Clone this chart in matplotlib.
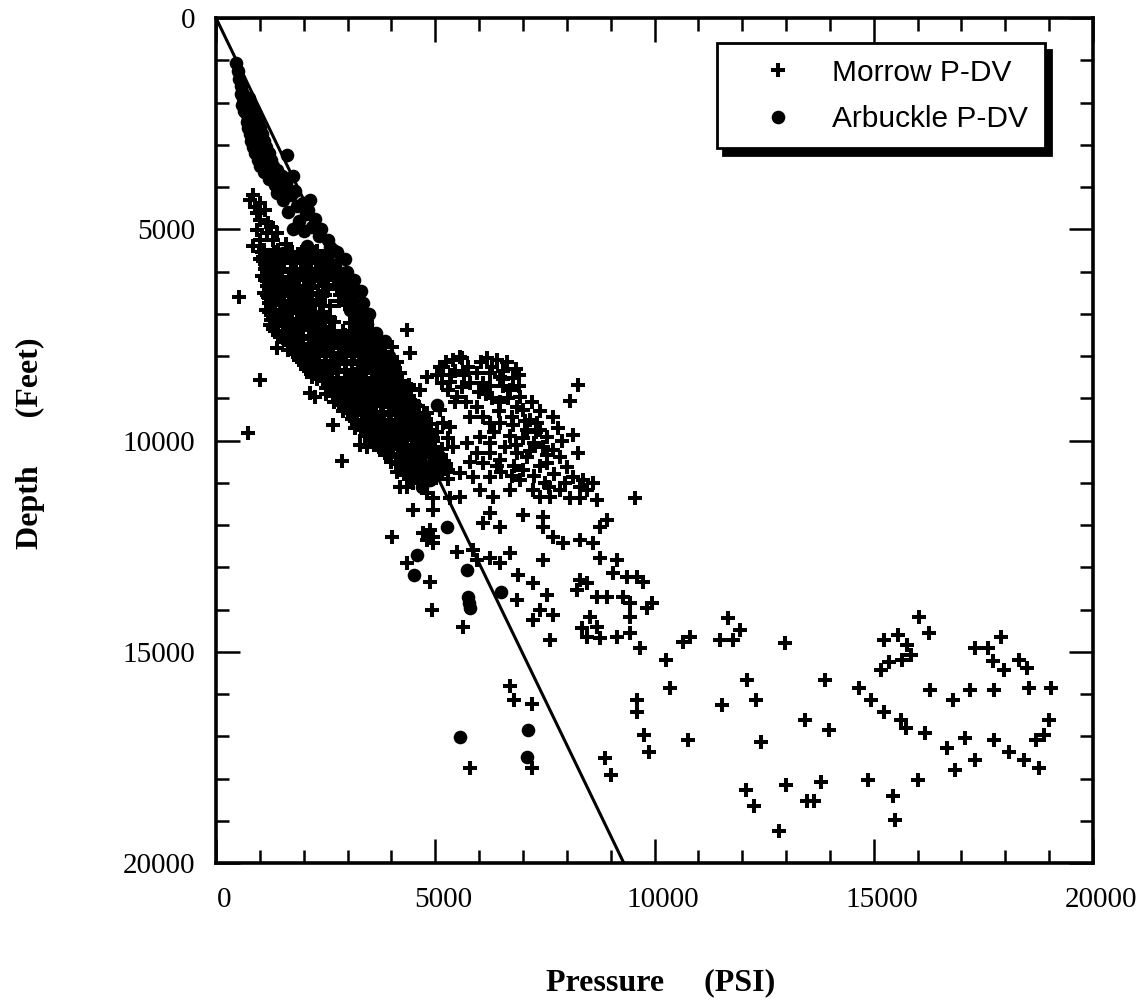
import matplotlib
matplotlib.use("Agg")
import matplotlib.pyplot as plt
import matplotlib.transforms as mtransforms
from matplotlib.ticker import MultipleLocator

# ---- Arbuckle pressure-depth points (pressure psi, depth ft) ----
arbuckle = [
    (456, 1070), (500, 1250), (520, 1450), (560, 1600), (600, 1750), (620, 1900),
    (650, 2000), (700, 2100), (680, 2250), (760, 2200), (740, 2400), (800, 2350),
    (780, 2550), (860, 2500), (820, 2700), (900, 2650), (880, 2850), (950, 2800),
    (920, 3000), (1000, 2950), (980, 3150), (1050, 3100), (1020, 3300), (1100, 3250),
    (1080, 3450), (1150, 3400), (1620, 3250), (1200, 3600), (1300, 3700), (1750, 3750),
    (1460, 3900), (1350, 3950), (1550, 4050), (1530, 4300), (1980, 4380), (2140, 4300),
    (1700, 4200), (1850, 4450), (1650, 4600), (1750, 5000), (1900, 4800), (2050, 4650),
    (2000, 5050), (2200, 4950), (2080, 5400), (2600, 5420), (2350, 5150), (2370, 5900),
    (2990, 6010), (1980, 5560), (2250, 5600), (2500, 5700), (2700, 5850), (1530, 5560),
    (2670, 5490), (2900, 6040), (2800, 6200), (3000, 6400), (3100, 6600), (3050, 6900),
    (3250, 7100), (3200, 7350), (3510, 7620), (3740, 7860), (3400, 7800), (3600, 8100),
    (3700, 8400), (3900, 8600), (3800, 8900), (4200, 9280), (4050, 9100), (4300, 9500),
    (4580, 9920), (4450, 9700), (4650, 10530), (4500, 10300), (4880, 10940), (4750, 10700),
    (4700, 11100), (5040, 9160), (5270, 12050), (4580, 12700), (4510, 13180), (5720, 13070),
    (5750, 13700), (5790, 13970), (5770, 13850), (6500, 13590), (5560, 17020), (7110, 16850),
    (7090, 17490),
    (560, 1800), (750, 1900), (600, 2050), (820, 2100), (640, 2200), (900, 2300),
    (700, 2450), (960, 2450), (730, 2600), (1000, 2600), (780, 2750), (1050, 2750),
    (800, 2900), (1100, 2900), (850, 3050), (1150, 3050), (880, 3200), (1200, 3200),
    (950, 3350), (1250, 3350), (1000, 3500), (1300, 3500), (1100, 3650), (1400, 3600),
    (1200, 3800), (1500, 3750), (1600, 3900), (1400, 4150), (1800, 4100), (2100, 4550),
    (2250, 4750), (2400, 5000), (2550, 5250), (2750, 5550), (2950, 5700), (3150, 6200),
    (3300, 6450), (3350, 6750), (3500, 7000), (3450, 7250), (3650, 7450), (3850, 7650),
    (3950, 8000), (3900, 8250), (4050, 8350), (4100, 8800), (4250, 9050), (4400, 9300),
    (4550, 9550), (4700, 9800), (4800, 10100), (4950, 10350), (5000, 10650),
]

# ---- Morrow points, shallow column and isolated low-pressure points ----
morrow_shallow = [
    (840, 4190), (780, 4310), (1000, 4380), (940, 4620), (1120, 4550), (1000, 4780),
    (1190, 4850), (940, 5020), (1160, 5090), (1000, 5260), (1300, 5260), (1070, 5660),
    (1190, 5730), (1390, 5800), (1530, 5660), (880, 4480), (1250, 4950), (1400, 5100),
    (850, 5400), (1600, 5350), (520, 6600), (1000, 8570), (730, 9820), (2990, 6270),
    (3120, 6370),
]

# ---- Morrow points, main normally pressured band ----
morrow_band = [
    (1100, 5500), (1420, 5480), (1730, 5530), (2020, 5460), (2310, 5520),
    (1000, 5700), (1260, 5690), (1560, 5740), (1880, 5680), (2150, 5720), (2460, 5700),
    (1150, 5900), (1440, 5880), (1770, 5930), (2060, 5870), (2390, 5910), (2710, 5900),
    (1050, 6100), (1340, 6080), (1660, 6120), (1950, 6090), (2260, 6110), (2580, 6080),
    (1200, 6300), (1510, 6280), (1790, 6330), (2110, 6290), (2500, 6310), (2850, 6270),
    (1100, 6500), (1390, 6490), (1710, 6520), (2010, 6480), (2330, 6510),
    (1250, 6700), (1560, 6690), (1840, 6720), (2160, 6680), (2800, 6700), (3150, 6710),
    (1150, 6900), (1460, 6910), (1740, 6880), (2060, 6920), (3050, 6890), (3260, 6930),
    (1300, 7100), (1610, 7080), (1890, 7120), (2210, 7090), (2610, 7110), (3300, 7100),
    (1230, 7270), (1550, 7300), (1860, 7320), (2140, 7280), (2480, 7310), (3190, 7290),
    (3420, 7330), (1390, 7810), (1420, 7500), (1710, 7490), (1990, 7520), (2310, 7480),
    (2660, 7510), (2950, 7500), (3460, 7520), (1640, 7860), (1650, 7700), (1960, 7710),
    (2240, 7690), (2560, 7720), (2860, 7700), (3160, 7690), (3550, 7710),
    (1760, 7900), (2050, 7910), (2350, 7890), (2640, 7920), (2960, 7900), (3250, 7910),
    (3660, 7890), (1900, 8100), (2210, 8090), (2490, 8120), (2810, 8080), (3100, 8110),
    (3410, 8100), (3750, 8090), (4010, 8110), (2060, 8300), (2360, 8310), (2640, 8290),
    (2960, 8320), (3240, 8300), (3560, 8290), (3890, 8310), (2200, 8500), (2510, 8490),
    (2790, 8520), (3110, 8480), (3400, 8510), (3710, 8500), (4050, 8490),
    (2140, 8880), (2260, 8970), (2600, 8700), (2910, 8710), (3190, 8690), (3510, 8720),
    (3790, 8700), (4140, 8710), (4400, 8690), (2500, 8900), (2760, 8910), (3050, 8890),
    (3360, 8920), (3650, 8880), (3960, 8910), (4300, 8900), (2700, 9100), (3010, 9090),
    (3290, 9120), (3610, 9100), (3900, 9080), (4260, 9110), (4510, 9100),
    (2900, 9300), (3190, 9310), (3510, 9290), (3790, 9320), (4110, 9300), (4410, 9290),
    (2670, 9630), (3100, 9500), (3400, 9510), (3710, 9490), (3990, 9520), (4310, 9500),
    (4660, 9510), (3170, 9700), (3490, 9710), (3810, 9690), (4090, 9720), (4460, 9700),
    (4790, 9690), (3400, 9900), (3710, 9890), (3990, 9910), (4310, 9900), (4600, 9890),
    (4910, 9920), (3280, 10110), (3440, 10160), (3740, 10220), (3600, 10100), (3910, 10090),
    (4210, 10110), (4490, 10100), (4810, 10090), (2870, 10490), (3850, 10300), (4160, 10310),
    (4440, 10290), (4760, 10300), (5060, 10310), (4000, 10500), (4310, 10490), (4590, 10510),
    (4910, 10500), (5190, 10490), (4130, 10750), (4210, 10700), (4490, 10710), (4810, 10690),
    (5090, 10710), (4200, 11100), (4360, 11100), (4400, 10900), (4710, 10910), (5010, 10890),
    (5290, 10910), (4490, 11650), (4950, 11360), (4880, 12120), (4810, 12360), (4950, 12430),
    (4010, 12290), (4720, 12190), (4950, 12290), (4360, 12900), (4880, 13350), (4930, 14010),
]

# ---- Morrow points, band infill between the rows above ----
morrow_band_fill = [
    (1250, 5600), (1570, 5610), (1880, 5590), (2180, 5600), (2500, 5620),
    (1130, 5800), (1400, 5790), (1700, 5810), (2000, 5800), (2290, 5790), (2560, 5810),
    (1200, 6000), (1500, 6010), (1820, 5990), (2120, 6000), (2430, 6020), (2760, 6000),
    (1120, 6200), (1420, 6190), (1720, 6210), (2030, 6200), (2350, 6190), (2680, 6210),
    (2950, 6180), (1300, 6400), (1600, 6410), (1900, 6390), (2200, 6400), (2560, 6420),
    (2900, 6400), (1180, 6600), (1480, 6590), (1780, 6610), (2080, 6600), (2420, 6590),
    (2950, 6610), (3200, 6580), (1350, 6800), (1650, 6810), (1950, 6790), (2250, 6800),
    (2600, 6820), (2980, 6800), (3250, 6820), (1250, 7000), (1550, 7010), (1850, 6990),
    (2150, 7000), (2450, 7010), (3150, 7000), (3400, 7020), (1400, 7200), (1700, 7210),
    (2000, 7190), (2300, 7200), (2700, 7190), (3050, 7210), (3450, 7200), (1350, 7400),
    (1650, 7410), (1950, 7390), (2250, 7400), (2600, 7420), (2900, 7400), (3300, 7390),
    (3550, 7420), (1550, 7600), (1850, 7610), (2150, 7590), (2450, 7600), (2750, 7610),
    (3050, 7600), (3350, 7590), (3650, 7610), (1900, 7800), (2200, 7810), (2500, 7790),
    (2800, 7800), (3100, 7810), (3400, 7800), (3750, 7790), (2050, 8000), (2350, 8010),
    (2650, 8000), (2950, 7990), (3250, 8010), (3550, 8000), (3850, 8010), (2200, 8200),
    (2500, 8210), (2800, 8190), (3100, 8200), (3400, 8210), (3700, 8190), (4050, 8200),
    (2350, 8400), (2650, 8410), (2950, 8390), (3250, 8400), (3550, 8410), (3850, 8390),
    (4200, 8400), (2450, 8600), (2750, 8610), (3050, 8590), (3350, 8600), (3650, 8610),
    (3950, 8600), (4250, 8590), (2650, 8800), (2950, 8810), (3250, 8790), (3550, 8800),
    (3850, 8810), (4150, 8800), (4450, 8790), (2850, 9000), (3150, 9010), (3450, 8990),
    (3750, 9000), (4050, 9010), (4400, 9000), (3000, 9200), (3350, 9210), (3650, 9190),
    (3950, 9200), (4250, 9210), (4600, 9190), (3200, 9400), (3500, 9410), (3800, 9390),
    (4100, 9400), (4450, 9410), (4750, 9400), (3350, 9600), (3650, 9610), (3950, 9590),
    (4250, 9600), (4600, 9610), (4900, 9600), (3550, 9800), (3850, 9810), (4150, 9790),
    (4450, 9800), (4750, 9810), (5050, 9800), (3750, 10000), (4050, 10010), (4350, 9990),
    (4650, 10000), (4950, 10010), (3950, 10200), (4300, 10210), (4600, 10190), (4900, 10200),
    (5150, 10210), (4150, 10400), (4450, 10410), (4750, 10390), (5050, 10400), (4350, 10600),
    (4650, 10610), (4950, 10590), (5250, 10600), (4550, 10800), (4850, 10810), (5150, 10790),
]

# ---- Morrow points, third layer of the band (depth, pressures at that depth) ----
morrow_band_rows = [
    (5550, [1050, 1330, 1640, 1950, 2260, 2560]),
    (5750, [1080, 1390, 1700, 2010, 2320, 2640]),
    (5950, [1110, 1420, 1730, 2040, 2350, 2660, 2790]),
    (6150, [1130, 1450, 1770, 2090, 2410, 2730, 2880]),
    (6350, [1160, 1480, 1800, 2120, 2440, 2760, 2990]),
    (6550, [1170, 1500, 1830, 2160, 2480, 2820, 3090]),
    (6750, [1210, 1530, 1860, 2190, 2380, 3020, 3190]),
    (6950, [1220, 1540, 1880, 2220, 2400, 3120, 3290]),
    (7150, [1260, 1590, 1930, 2270, 2420, 3180, 3390]),
    (7350, [1310, 1640, 1980, 2320, 2440, 3220, 3480]),
    (7550, [1460, 1790, 2120, 2460, 2800, 3130, 3580]),
    (7750, [1660, 1990, 2330, 2660, 2990, 3330, 3680]),
    (7950, [1810, 2150, 2480, 2810, 3140, 3470, 3790]),
    (8150, [1960, 2300, 2630, 2960, 3290, 3620, 3890]),
    (8350, [2110, 2440, 2770, 3100, 3430, 3760, 3990]),
    (8550, [2310, 2640, 2960, 3280, 3600, 3920, 4090]),
    (8750, [2510, 2830, 3150, 3470, 3790, 4110, 4240]),
    (8950, [2660, 2980, 3300, 3620, 3940, 4260, 4390]),
    (9150, [2810, 3130, 3450, 3770, 4090, 4410, 4540]),
    (9350, [3010, 3330, 3650, 3970, 4290, 4640]),
    (9550, [3160, 3480, 3800, 4120, 4440, 4740]),
    (9750, [3310, 3630, 3950, 4270, 4590, 4840]),
    (9950, [3510, 3830, 4150, 4470, 4790, 4940]),
    (10150, [3710, 4030, 4350, 4670, 4990]),
    (10350, [3910, 4230, 4550, 4870, 5140]),
    (10550, [4110, 4430, 4750, 5070, 5240]),
    (10750, [4310, 4630, 4950, 5280]),
]

# ---- Morrow points, overpressured cluster at 8000-15000 ft ----
morrow_mid = [
    (4355, 7385), (4423, 7930), (4013, 7787), (4127, 8142), (5176, 8261), (5404, 8095),
    (5609, 8048), (5336, 8616), (5609, 8734), (5495, 8970), (4811, 8498), (4651, 8805),
    (6179, 8048), (6407, 8095), (6635, 8142), (6247, 8403), (6475, 8498), (6772, 8521),
    (6088, 8640), (6703, 8805), (6931, 8970), (6863, 9208), (6475, 9089), (7000, 9279),
    (7159, 9515), (7319, 9587), (7091, 9752), (7547, 9918), (7684, 9444), (7456, 10155),
    (7684, 10225), (7843, 10391), (7547, 10533), (8003, 10628), (8140, 10865), (8368, 10935),
    (8687, 11409), (8459, 11172), (8300, 11362), (8071, 11362), (8254, 8687), (8071, 9066),
    (8140, 9870), (9553, 11362), (5107, 8261), (5563, 8024), (4811, 9350), (5107, 9279),
    (5176, 9587), (5336, 9681), (5791, 9444), (6088, 9444), (6247, 9587), (6475, 9587),
    (6772, 9634), (5404, 10155), (5723, 10060), (6020, 9918), (5951, 10296), (6247, 10060),
    (6088, 10533), (6475, 10462), (6863, 10296), (5563, 10770), (5860, 10865), (6247, 10865),
    (6931, 10935), (4492, 11006), (4811, 11243), (5336, 11362), (5563, 11338), (6020, 11172),
    (6316, 11338), (6703, 11172), (7228, 11172), (7387, 11338), (7615, 11338), (7843, 11172),
    (4492, 11646), (4948, 11646), (6247, 11717), (7000, 11764), (7456, 11811), (6088, 11953),
    (6475, 12048), (7456, 12048), (7684, 12285), (7912, 12427), (8300, 12356), (8596, 12427),
    (8755, 12048), (8915, 11882), (4720, 12190), (5495, 12640), (5860, 12592), (5951, 12829),
    (6247, 12782), (6475, 12900), (6703, 12664), (7456, 12829), (8755, 12782), (9143, 12829),
    (9052, 13137), (9371, 13231), (9599, 13231), (9736, 13350), (4355, 12900), (6886, 13184),
    (7228, 13374), (7547, 13658), (6863, 13776), (7387, 14013), (7684, 14131), (7228, 14249),
    (8300, 13303), (8459, 13374), (8231, 13539), (8687, 13705), (8915, 13705), (9280, 13705),
    (9439, 13847), (9827, 13966), (9941, 13847), (9439, 14178), (8527, 14178), (8687, 14415),
    (8459, 14652), (8755, 14675), (9143, 14652), (9439, 14557), (9667, 14912), (8345, 14439),
    (7615, 14723), (5632, 14415),
    (5250, 8150), (5450, 8350), (5750, 8250), (5950, 8400), (5300, 8800), (5800, 8650),
    (6000, 8850), (6300, 8250), (6550, 8350), (6850, 8300), (6250, 8700), (6550, 8700),
    (6900, 8700), (6300, 9000), (6650, 9000), (5700, 9100), (5950, 9200), (7200, 9100),
    (7400, 9300), (7300, 9800), (7000, 9950), (7250, 10050), (6700, 9900), (6600, 10150),
    (7100, 10400), (7400, 10600), (7700, 10800), (7950, 11000), (6500, 10750), (6800, 10600),
    (5300, 9950), (5100, 10500), (5300, 10700), (5800, 10500), (6250, 10300), (7000, 10700),
    (7600, 11100), (8300, 11100), (8600, 11000), (7800, 9700), (7900, 10000), (8250, 10300),
    (6050, 8150), (6550, 8550), (6900, 8450), (6150, 8900), (6450, 9300), (6750, 9450),
    (7050, 9550), (7400, 9750), (6350, 9800), (6850, 10100), (7150, 10250), (7550, 10350),
    (6400, 10600), (6750, 10850), (7250, 10850), (7500, 11000), (5050, 8450), (5350, 8450),
    (5650, 8450), (5150, 8650), (5450, 9100),
]

# ---- Morrow points, deep overpressured wells ----
morrow_deep = [
    (11674, 14202), (11947, 14486), (11491, 14723), (11788, 14723), (12973, 14794),
    (10648, 14770), (10807, 14652), (5800, 17750), (6700, 15810), (6800, 16140),
    (7200, 16240), (7200, 17750), (8870, 17510), (9000, 17920), (9590, 16140), (9610, 16430),
    (9760, 16970), (9870, 17370), (10270, 15200), (10360, 15860), (10760, 17090),
    (11540, 16260), (12100, 15670), (12320, 16140), (12430, 17140), (13430, 16620),
    (13880, 15670), (13990, 16850), (12084, 18273), (12266, 18652), (12836, 19244),
    (12996, 18155), (13475, 18534), (13634, 18534), (13794, 18084), (14866, 18037),
    (15436, 18416), (15481, 18983), (16006, 18037),
    (16040, 14180), (15550, 14600), (15230, 14720), (15750, 14840), (15860, 15080),
    (15640, 15200), (15350, 15240), (15170, 15430), (16270, 14560), (17300, 14910),
    (17600, 14910), (17910, 14650), (17710, 15220), (17980, 15430), (18320, 15200),
    (18500, 15390), (14670, 15860), (14940, 16140), (16290, 15910), (16810, 16140),
    (17190, 15910), (17750, 15910), (18540, 15860), (19040, 15860), (15230, 16430),
    (15620, 16620), (15730, 16810), (16180, 16920), (16670, 17280), (17080, 17040),
    (17300, 17560), (17750, 17090), (18090, 17370), (18430, 17560), (18700, 17090),
    (18990, 16620), (18880, 16970), (16850, 17800), (18770, 17750),
]

# ---- hydrostatic gradient line ----
gradient_pressure = [0, 9300]
gradient_depth = [0, 20000]

x_ticks = [0, 5000, 10000, 15000, 20000]
y_ticks = [0, 5000, 10000, 15000, 20000]

morrow = morrow_shallow + morrow_band + morrow_band_fill + morrow_mid + morrow_deep
for depth, pressures in morrow_band_rows:
    morrow += [(p, depth) for p in pressures]
morrow_p = [p for p, d in morrow]
morrow_d = [d for p, d in morrow]
arb_p = [p for p, d in arbuckle]
arb_d = [d for p, d in arbuckle]

serif = "Liberation Serif"
sans = "Liberation Sans"

fig = plt.figure(figsize=(11.48, 10.05), dpi=100)
ax = fig.add_axes([216 / 1148, 1 - 863 / 1005, 877 / 1148, 845 / 1005])

ax.plot(morrow_p, morrow_d, linestyle="none", marker="+", ms=10.3, mew=2.9,
        color="black", label="Morrow P-DV", zorder=3)
ax.plot(arb_p, arb_d, linestyle="none", marker="o", ms=9.8, mew=0,
        color="black", label="Arbuckle P-DV", zorder=3)
ax.plot(gradient_pressure, gradient_depth, color="black", lw=2.2, zorder=4)

ax.set_xlim(0, 20000)
ax.set_ylim(20000, 0)
ax.set_xticks(x_ticks)
ax.set_yticks(y_ticks)
ax.xaxis.set_minor_locator(MultipleLocator(1000))
ax.yaxis.set_minor_locator(MultipleLocator(1000))
ax.tick_params(which="both", direction="in", top=True, right=True, width=1.8)
ax.tick_params(which="major", length=17)
ax.tick_params(which="minor", length=9.5)
ax.tick_params(axis="x", pad=17, labelsize=21)
ax.tick_params(axis="y", pad=15, labelsize=21)
for lab in ax.get_xticklabels() + ax.get_yticklabels():
    lab.set_fontfamily(serif)
shift = mtransforms.ScaledTranslation(8 / 100, 0, fig.dpi_scale_trans)
for lab in ax.get_xticklabels():
    lab.set_transform(lab.get_transform() + shift)
for sp in ax.spines.values():
    sp.set_linewidth(2.6)

ax.set_xlabel("Pressure     (PSI)", fontsize=23, fontweight="bold", family=serif)
ax.xaxis.set_label_coords(0.507, -0.142)
ax.xaxis.label.set_verticalalignment("center")
ax.set_ylabel("Depth      (Feet)", fontsize=23, fontweight="bold", family=serif)
ax.yaxis.set_label_coords(-0.212, 0.497)
ax.yaxis.label.set_verticalalignment("center")

leg = ax.legend(loc="upper left", bbox_to_anchor=(0.571, 0.970, 0.374, 0.0),
                mode="expand", prop={"family": sans, "size": 21.5}, fancybox=False,
                edgecolor="black", framealpha=1,
                shadow={"ox": 4.5, "oy": -4.5, "color": "black", "alpha": 1},
                borderpad=0.51, handlelength=3.08, handletextpad=0.27,
                labelspacing=0.62, borderaxespad=0)
leg.get_frame().set_linewidth(2)

fig.savefig("out.png", dpi=100, facecolor="white")
